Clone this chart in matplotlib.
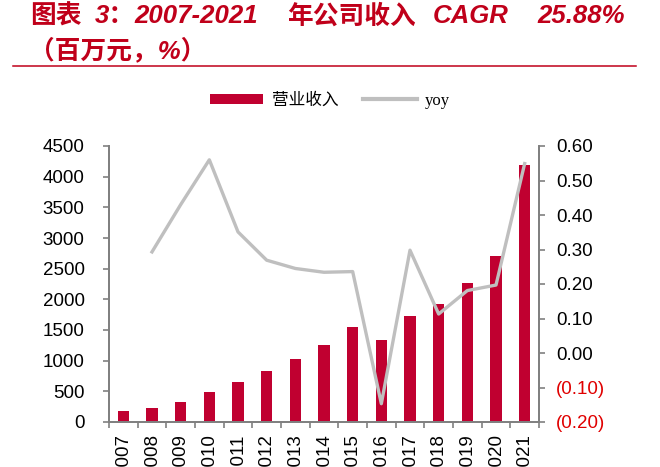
import matplotlib
matplotlib.use("Agg")
import matplotlib.pyplot as plt
import numpy as np
from matplotlib.patches import Patch
from matplotlib.lines import Line2D

# dados
anos = ['2007', '2008', '2009', '2010', '2011', '2012', '2013', '2014',
        '2015', '2016', '2017', '2018', '2019', '2020', '2021']
receita = [172, 222, 318, 488, 656, 835, 1030, 1263,
           1556, 1329, 1730, 1925, 2267, 2711, 4197]
yoy = [np.nan, 0.293, 0.43, 0.56, 0.351, 0.269, 0.245, 0.234,
       0.236, -0.147, 0.298, 0.113, 0.181, 0.197, 0.549]
esq_ticks = [0, 500, 1000, 1500, 2000, 2500, 3000, 3500, 4000, 4500]
dir_ticks = [-0.20, -0.10, 0.00, 0.10, 0.20, 0.30, 0.40, 0.50, 0.60]

vermelho = '#C00030'
cinza = '#BFBFBF'
eixo = '#808080'

plt.rcParams['font.family'] = ['Liberation Sans', 'Noto Sans CJK SC']

fig = plt.figure(figsize=(6.6, 4.67), dpi=100)
ax = fig.add_axes([109/660, 1-422/467, 430/660, 276/467])
x = np.arange(len(anos))
ax.bar(x, receita, width=0.4, color=vermelho, zorder=2)
ax.set_xlim(-0.5, len(anos)-0.5)
ax.set_ylim(0, 4500)
ax.set_yticks(esq_ticks)
ax.set_yticklabels([str(v) for v in esq_ticks], fontsize=13.5)
ax.set_xticks(x)
ax.set_xticklabels(anos, rotation=90, fontsize=13.5)
ax.set_xticks(np.arange(-0.5, len(anos), 1), minor=True)
ax.tick_params(axis='x', which='major', length=0, pad=9)
ax.tick_params(axis='x', which='minor', length=4.5, color=eixo, width=1.2)
ax.tick_params(axis='y', length=4.5, color=eixo, width=1.2, pad=13)

ax2 = ax.twinx()
ax2.plot(x, yoy, color=cinza, linewidth=2.4, zorder=3)
ax2.set_ylim(-0.2, 0.6)
ax2.set_yticks(dir_ticks)
rot = [f'({abs(v):.2f})' if v < -1e-9 else f'{v:.2f}' for v in dir_ticks]
ax2.set_yticklabels(rot, fontsize=13.5)
for lab, v in zip(ax2.get_yticklabels(), dir_ticks):
    if v < -1e-9:
        lab.set_color('#E00000')
ax2.tick_params(axis='y', length=4.5, color=eixo, width=1.2, pad=8)

for a in (ax, ax2):
    a.spines['top'].set_visible(False)
    for s in ('left', 'right', 'bottom'):
        a.spines[s].set_color(eixo)
        a.spines[s].set_linewidth(1.3)

# titulo (em pedacos, para imitar o espacamento do original)
cor_titulo = '#C0001A'
pedacos = [('图表', 30), ('3：', 95), ('2007-2021', 134),
           ('年公司收入', 287), ('CAGR', 433), ('25.88%', 537)]
for txt, px in pedacos:
    fig.text(px/660, 1-16/467, txt, fontsize=18.5, fontweight='bold',
             style='italic', color=cor_titulo, va='center', ha='left')
fig.text(29/660, 1-50/467, '（百万元，%）',
         fontsize=18.5, fontweight='bold', style='italic', color=cor_titulo,
         va='center', ha='left')
fig.add_artist(Line2D([13/660, 636/660], [1-66/467, 1-66/467],
                      color=cor_titulo, linewidth=1.1))

handles = [Patch(facecolor=vermelho, edgecolor='none'),
           Line2D([0], [0], color=cinza, linewidth=3)]
fig.legend(handles, ['营业收入', 'yoy'], loc='center', ncol=2,
           bbox_to_anchor=(0.5, 1-101/467), frameon=False,
           prop={'family': ['Liberation Serif', 'Noto Sans CJK SC'], 'size': 12},
           handlelength=3.2, handleheight=0.6, columnspacing=1.5, handletextpad=0.5)

fig.savefig('out.png', dpi=100)
